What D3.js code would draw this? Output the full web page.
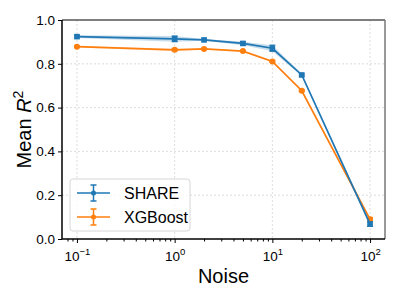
<!DOCTYPE html>
<html>
<head>
<meta charset="utf-8">
<script src="https://cdn.jsdelivr.net/npm/d3@7"></script>
<style>
  body { margin: 0; background: #fff; }
  svg text { font-family: "Liberation Sans", Arial, sans-serif; }
</style>
</head>
<body>
<svg id="chart" width="400" height="300"></svg>
<script>
// Noise levels and scores
const noise = [0.1, 1, 2, 5, 10, 20, 100];
const shareMean = [0.924, 0.914, 0.909, 0.893, 0.871, 0.749, 0.068];
const shareErr = [0.006, 0.013, 0.004, 0.008, 0.014, 0.005, 0.01];
const xgbMean = [0.878, 0.864, 0.868, 0.858, 0.811, 0.677, 0.09];
const xgbErr = [0.003, 0.005, 0.003, 0.003, 0.004, 0.004, 0.008];
const yTicks = [0.0, 0.2, 0.4, 0.6, 0.8, 1.0];
const xTicks = [0.1, 1, 10, 100];
const xTickExp = ["\u22121", "0", "1", "2"];

const margin = { top: 20, right: 15, bottom: 61, left: 62 };
const width = 400 - margin.left - margin.right,
  height = 300 - margin.top - margin.bottom;

const svg = d3.select("#chart");
const g = svg.append("g").attr("transform", `translate(${margin.left},${margin.top})`);

const x = d3.scaleLog().domain([Math.pow(10, -1.153), Math.pow(10, 2.153)]).range([0, width]);
const y = d3.scaleLinear().domain([0, 1]).range([height, 0]);

// grid
g.selectAll(".gx").data(xTicks).enter().append("line")
  .attr("x1", (d) => x(d)).attr("x2", (d) => x(d))
  .attr("y1", 0).attr("y2", height)
  .attr("stroke", "#d4d4d4").attr("stroke-width", 0.8).attr("stroke-dasharray", "2,2");
g.selectAll(".gy").data(yTicks.slice(1, -1)).enter().append("line")
  .attr("x1", 0).attr("x2", width)
  .attr("y1", (d) => y(d)).attr("y2", (d) => y(d))
  .attr("stroke", "#d4d4d4").attr("stroke-width", 0.8).attr("stroke-dasharray", "2,2");

const series = [
  { name: "SHARE", mean: shareMean, err: shareErr, color: "#1f77b4", marker: "square" },
  { name: "XGBoost", mean: xgbMean, err: xgbErr, color: "#ff7f0e", marker: "circle" },
];

const line = d3.line().x((d) => x(d.x)).y((d) => y(d.m));
const band = d3.area().x((d) => x(d.x)).y0((d) => y(d.m - d.e)).y1((d) => y(d.m + d.e));

// draw XGBoost first so SHARE sits on top like in the reference
series.slice().reverse().forEach((s) => {
  const pts = noise.map((n, i) => ({ x: n, m: s.mean[i], e: s.err[i] }));
  g.append("path").datum(pts).attr("d", band).attr("fill", s.color).attr("fill-opacity", 0.25);
  g.append("path").datum(pts).attr("d", line)
    .attr("fill", "none").attr("stroke", s.color).attr("stroke-width", 1.7);

  // error bars
  const eb = g.append("g").attr("stroke", s.color).attr("stroke-width", 1.2);
  pts.forEach((p) => {
    eb.append("line").attr("x1", x(p.x)).attr("x2", x(p.x))
      .attr("y1", y(p.m - p.e)).attr("y2", y(p.m + p.e));
    [p.m - p.e, p.m + p.e].forEach((v) => {
      eb.append("line").attr("x1", x(p.x) - 3).attr("x2", x(p.x) + 3)
        .attr("y1", y(v)).attr("y2", y(v));
    });
  });

  if (s.marker === "square") {
    g.selectAll(null).data(pts).enter().append("rect")
      .attr("x", (d) => x(d.x) - 2.8).attr("y", (d) => y(d.m) - 2.8)
      .attr("width", 5.6).attr("height", 5.6).attr("fill", s.color);
  } else {
    g.selectAll(null).data(pts).enter().append("circle")
      .attr("cx", (d) => x(d.x)).attr("cy", (d) => y(d.m))
      .attr("r", 3).attr("fill", s.color);
  }
});

// spines
g.append("line").attr("x1", 0).attr("x2", width).attr("y1", 0).attr("y2", 0)
  .attr("stroke", "#555").attr("stroke-width", 1.5);
g.append("line").attr("x1", width).attr("x2", width).attr("y1", 0).attr("y2", height)
  .attr("stroke", "#777").attr("stroke-width", 1.5);
g.append("line").attr("x1", 0).attr("x2", 0).attr("y1", 0).attr("y2", height)
  .attr("stroke", "#000").attr("stroke-width", 1.5);
g.append("line").attr("x1", 0).attr("x2", width).attr("y1", height).attr("y2", height)
  .attr("stroke", "#000").attr("stroke-width", 1.5);

// y axis
const yAxis = g.append("g").call(d3.axisLeft(y).tickValues(yTicks).tickFormat(d3.format(".1f")).tickSize(4).tickPadding(3));
yAxis.select(".domain").remove();
yAxis.selectAll("text").attr("font-size", 13.5).attr("fill", "#000");

// x axis with minor ticks
const minor = [];
for (let e = -2; e <= 2; e++) {
  for (let k = 2; k <= 9; k++) {
    const v = k * Math.pow(10, e);
    if (v > x.domain()[0] && v < x.domain()[1]) minor.push(v);
  }
}
const xMinor = g.append("g").attr("transform", `translate(0,${height})`)
  .call(d3.axisBottom(x).tickValues(minor).tickSize(2.5).tickFormat(""));
xMinor.select(".domain").remove();

const xAxis = g.append("g").attr("transform", `translate(0,${height})`)
  .call(d3.axisBottom(x).tickValues(xTicks).tickSize(4).tickFormat(""));
xAxis.select(".domain").remove();
xAxis.selectAll(".tick").each(function (d, i) {
  const t = d3.select(this).append("text").attr("y", 22).attr("fill", "#000")
    .attr("text-anchor", "middle").attr("font-size", 13.5);
  t.append("tspan").text("10");
  t.append("tspan").attr("dy", -6).attr("font-size", 9.5).text(xTickExp[i]);
});

// axis labels
svg.append("text").attr("x", margin.left + width / 2).attr("y", 283)
  .attr("text-anchor", "middle").attr("font-size", 20).text("Noise");
const yl = svg.append("text").attr("transform", `translate(31,${margin.top + height / 2}) rotate(-90)`)
  .attr("text-anchor", "middle").attr("font-size", 20);
yl.append("tspan").text("Mean ");
yl.append("tspan").attr("font-style", "italic").text("R");
yl.append("tspan").attr("dy", -8).attr("font-size", 14).text("2");

// legend
const lg = svg.append("g").attr("transform", "translate(70,179)");
lg.append("rect").attr("width", 120).attr("height", 52).attr("rx", 3)
  .attr("fill", "#fff").attr("fill-opacity", 0.8).attr("stroke", "#ccc").attr("stroke-width", 0.8);
series.forEach((s, i) => {
  const cy = 14 + i * 24;
  const it = lg.append("g").attr("stroke", s.color).attr("stroke-width", 1.5);
  it.append("line").attr("x1", 7).attr("x2", 40).attr("y1", cy).attr("y2", cy);
  it.append("line").attr("x1", 23.5).attr("x2", 23.5).attr("y1", cy - 8).attr("y2", cy + 8);
  it.append("line").attr("x1", 20.5).attr("x2", 26.5).attr("y1", cy - 8).attr("y2", cy - 8);
  it.append("line").attr("x1", 20.5).attr("x2", 26.5).attr("y1", cy + 8).attr("y2", cy + 8);
  lg.append("circle").attr("cx", 23.5).attr("cy", cy).attr("r", 2.5).attr("fill", s.color);
  lg.append("text").attr("x", 54).attr("y", cy + 6).attr("font-size", 16).text(s.name);
});
</script>
</body>
</html>
